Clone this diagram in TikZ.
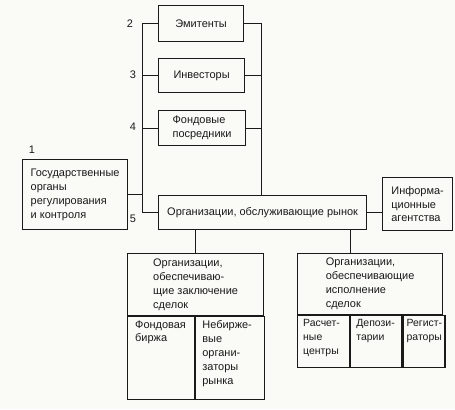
\documentclass[tikz,border=0pt]{standalone}
\usepackage{fontspec}
\setmainfont{Liberation Sans}
\usetikzlibrary{positioning,calc}
\definecolor{Ink}{HTML}{1A1A1A}
\definecolor{Paper}{HTML}{FAFAF6}

\begin{document}
\begin{tikzpicture}[x=1bp,y=-1bp,
  box/.style={draw=Ink,line width=1.2bp,anchor=north west,inner sep=0pt,text=Ink,font=\fontsize{11}{14}\selectfont,align=left},
  txt/.style={anchor=north west,inner sep=0pt,align=left,text=Ink,font=\fontsize{11}{14}\selectfont},
  smalltxt/.style={txt,font=\fontsize{10.5}{14}\selectfont},
  num/.style={text=Ink,font=\fontsize{11}{13}\selectfont},
  link/.style={draw=Ink,line width=0.6bp}
]
  \fill[Paper] (0,0) rectangle (455,409);
  \useasboundingbox (0,0) rectangle (455,409);

  \node[box,minimum width=85bp,minimum height=36bp] (emit) at (158,5) {Эмитенты};
  \node[box,minimum width=86bp,minimum height=34bp] (inv) at (158,58) {Инвесторы};
  \node[box,minimum width=87bp,minimum height=35bp] (posr) at (158,110) {Фондовые\\посредники};
  \node[box,minimum width=105bp,minimum height=70bp] (gov) at (22,159) {Государственные\\органы\\регулирования\\и контроля};
  \node[box,minimum width=208bp,minimum height=34bp] (org) at (158,195) {Организации, обслуживающие рынок};
  \node[box,minimum width=70bp,minimum height=53bp] (info) at (382,177) {Информа-\\ционные\\агентства};

  \node[box,minimum width=136bp,minimum height=62bp] (zakl) at (127,253) {Организации,\\обеспечиваю-\\щие заключение\\сделок};
  \node[box,minimum width=67bp,minimum height=83bp] (birzha) at (zakl.south west) {};
  \node[box,minimum width=69bp,minimum height=83bp] (nebirzh) at (birzha.north east) {};
  \node[box,minimum width=145bp,minimum height=61bp] (ispoln) at (297,253) {Организации,\\обеспечивающие\\исполнение\\сделок};
  \node[box,minimum width=52bp,minimum height=52bp] (rasch) at (ispoln.south west) {};
  \node[box,minimum width=51bp,minimum height=52bp] (depoz) at (rasch.north east) {};
  \node[box,minimum width=42bp,minimum height=52bp] (regist) at (depoz.north east) {};

  \node[txt] (birzhaT) at ([shift={(8,4)}]birzha.north west) {Фондовая\\биржа};
  \node[txt] (nebirzhT) at ([shift={(7,4)}]nebirzh.north west) {Небирже-\\вые\\органи-\\заторы\\рынка};
  \node[smalltxt] (raschT) at ([shift={(6,4)}]rasch.north west) {Расчет-\\ные\\центры};
  \node[smalltxt] (depozT) at ([shift={(6,4)}]depoz.north west) {Депози-\\тарии};
  \node[smalltxt] (registT) at ([shift={(4,4)}]regist.north west) {Регист-\\раторы};

  \node[num] (n1) at (32,150) {1};
  \node[num] (n2) at (130,24) {2};
  \node[num] (n3) at (133,75) {3};
  \node[num] (n4) at (133,127) {4};
  \node[num] (n5) at (133,219) {5};

  \coordinate (lt) at (142,0);
  \coordinate (rt) at (261,0);
  \draw[link] (emit.west) -- (emit.west -| lt) |- (org.west);
  \draw[link] (inv.west) -- (inv.west -| lt);
  \draw[link] (posr.west) -- (posr.west -| lt);
  \draw[link] (gov.east) -- (gov.east -| lt);
  \draw[link] (emit.east) -- (emit.east -| rt) -- (org.north -| rt);
  \draw[link] (inv.east) -- (inv.east -| rt);
  \draw[link] (posr.east) -- (posr.east -| rt);
  \draw[link] (org.east) -- (org.east -| info.west);
  \draw[link] (org.south -| birzha.east) -- (zakl.north -| birzha.east);
  \draw[link] (org.south -| rasch.east) -- (ispoln.north -| rasch.east);
\end{tikzpicture}
\end{document}
